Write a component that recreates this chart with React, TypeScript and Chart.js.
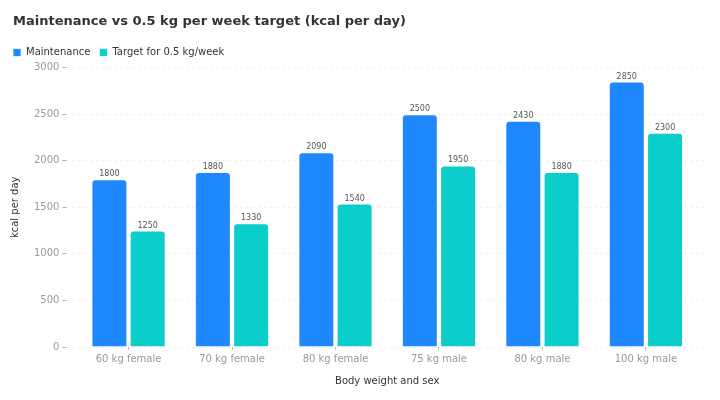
import React, { useEffect, useRef } from "react";
import { Chart, registerables } from "chart.js";

Chart.register(...registerables);

const categories = ["60 kg female", "70 kg female", "80 kg female", "75 kg male", "80 kg male", "100 kg male"];
const maintenance = [1800, 1880, 2090, 2500, 2430, 2850];
const target = [1250, 1330, 1540, 1950, 1880, 2300];
const yTicks = [0, 500, 1000, 1500, 2000, 2500, 3000];

const FONT = "'DejaVu Sans', sans-serif";

const valueLabels = {
  id: "valueLabels",
  afterDatasetsDraw(chart: any) {
    const ctx = chart.ctx;
    ctx.save();
    ctx.font = `8px ${FONT}`;
    ctx.fillStyle = "#555";
    ctx.textAlign = "center";
    ctx.textBaseline = "bottom";
    chart.data.datasets.forEach((ds: any, di: number) => {
      const meta = chart.getDatasetMeta(di);
      meta.data.forEach((bar: any, i: number) => {
        ctx.fillText(String(ds.data[i]), bar.x, bar.y - 1);
      });
    });
    ctx.restore();
  },
};

const shiftTitle = {
  id: "shiftTitle",
  afterLayout(chart: any) {
    if (chart.titleBlock) {
      chart.titleBlock.left += 9;
    }
  },
};

export default function App() {
  const ref = useRef<HTMLCanvasElement>(null);
  useEffect(() => {
    document.body.style.margin = "0";
    const chart = new Chart(ref.current!, {
      type: "bar",
      data: {
        labels: categories.map((_, i) => i),
        datasets: [
          {
            label: "Maintenance",
            data: maintenance,
            backgroundColor: "#1f88ff",
            borderColor: "rgba(255,255,255,0.7)",
            borderWidth: 1,
            borderRadius: 4,
            borderSkipped: "bottom",
          },
          {
            label: "Target for 0.5 kg/week",
            data: target,
            backgroundColor: "#0bcdc9",
            borderColor: "rgba(255,255,255,0.7)",
            borderWidth: 1,
            borderRadius: 4,
            borderSkipped: "bottom",
          },
        ],
      },
      options: {
        animation: false,
        responsive: true,
        maintainAspectRatio: false,
        layout: { padding: { left: 4, right: 12, top: 6, bottom: 9 } },
        datasets: { bar: { categoryPercentage: 0.74, barPercentage: 0.94 } },
        plugins: {
          title: {
            display: true,
            text: "Maintenance vs 0.5 kg per week target (kcal per day)",
            align: "start",
            color: "#333",
            font: { family: FONT, size: 13, weight: "bold" },
            padding: { top: 8, bottom: 9 },
          },
          legend: {
            display: true,
            align: "start",
            labels: {
              boxWidth: 8,
              boxHeight: 8,
              color: "#333",
              font: { family: FONT, size: 10 },
              padding: 9,
            },
          },
          tooltip: { enabled: false },
        },
        scales: {
          x: {
            type: "linear",
            min: -0.6,
            max: 5.6,
            offset: false,
            afterBuildTicks: (s: any) => {
              s.ticks = categories.map((_, i) => ({ value: i }));
            },
            ticks: {
              callback: (v: any) => categories[v] ?? "",
              color: "#999",
              font: { family: FONT, size: 10 },
              padding: 3,
              maxRotation: 0,
              autoSkip: false,
            },
            grid: { offset: false, drawOnChartArea: false, drawTicks: true, tickLength: 3, tickColor: "#bbb" },
            border: { display: false },
            title: {
              display: true,
              text: "Body weight and sex",
              color: "#333",
              font: { family: FONT, size: 10 },
              padding: { top: 7 },
            },
          },
          y: {
            min: 0,
            max: 3000,
            afterBuildTicks: (s: any) => {
              s.ticks = yTicks.map((v) => ({ value: v }));
            },
            ticks: {
              callback: (v: any) => String(v),
              color: "#999",
              font: { family: FONT, size: 10 },
              padding: 3,
            },
            grid: {
              color: "rgba(0,0,0,0.06)",
              tickColor: "#aaa",
              tickLength: 4,
              drawTicks: true,
            },
            border: { display: false, dash: [3, 3] },
            title: {
              display: true,
              text: "kcal per day",
              color: "#333",
              font: { family: FONT, size: 10 },
              padding: { top: 5, bottom: 10 },
            },
          },
        },
      },
      plugins: [valueLabels, shiftTitle],
    } as any);
    return () => chart.destroy();
  }, []);
  return (
    <div style={{ width: 720, height: 400, position: "relative" }}>
      <canvas ref={ref} />
    </div>
  );
}
